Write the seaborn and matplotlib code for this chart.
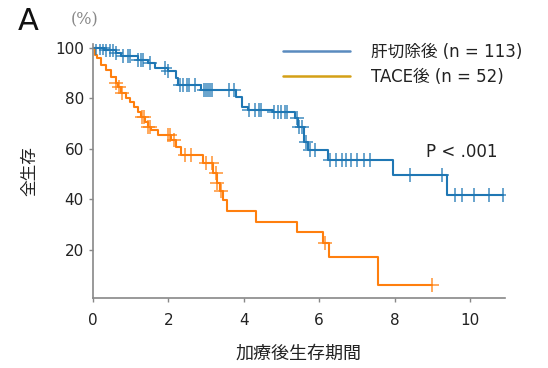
import numpy as np
import pandas as pd
import matplotlib
matplotlib.use("Agg")
import matplotlib.pyplot as plt
from matplotlib.lines import Line2D
import seaborn as sns

# ---- data ----
hep_times = [0, 0.3, 0.6, 0.74, 1.2, 1.46, 1.64, 2.0, 2.2, 2.25, 2.86, 3.8, 3.95, 4.1, 4.77,
             5.37, 5.45, 5.6, 5.7, 6.23, 7.96, 9.39, 10.87]
hep_surv = [100, 99, 98, 96.6, 95, 94, 92, 90.7, 88, 85, 83, 80.5, 76.4, 75.2, 74.5,
            72, 68.5, 62.6, 59.4, 55.4, 49.5, 41.6, 41.6]
hep_censor = [0.08, 0.19, 0.27, 0.34, 0.45, 0.53, 0.61, 0.8, 0.93, 0.98, 1.2, 1.27, 1.33, 1.5,
              1.9, 2.0, 2.3, 2.4, 2.5, 2.55, 2.7, 2.95, 3.0, 3.05, 3.1, 3.15, 3.6, 3.75,
              4.15, 4.3, 4.4, 4.45, 4.8, 4.9, 5.0, 5.1, 5.15, 5.4, 5.47, 5.55, 5.65, 5.75,
              5.9, 6.3, 6.45, 6.6, 6.7, 6.85, 7.0, 7.2, 7.35, 8.4, 9.26, 9.6, 9.8, 10.1,
              10.5, 10.87]

tace_times = [0, 0.05, 0.1, 0.2, 0.35, 0.48, 0.6, 0.66, 0.74, 0.88, 0.98, 1.1, 1.2, 1.27,
              1.38, 1.45, 1.54, 1.72, 2.07, 2.2, 2.33, 2.92, 3.18, 3.28, 3.38, 3.45, 3.55,
              4.32, 5.4, 6.1, 6.25, 7.56, 9.0]
tace_surv = [100, 97, 95.8, 93, 91, 88.3, 86, 84.4, 82, 80, 78.4, 76.4, 74.5, 72.5,
             70.5, 68.5, 67.3, 65.3, 63.4, 60.6, 57.4, 54.3, 50.5, 46.5, 43, 39.6, 35.2,
             30.9, 26.9, 22.6, 17.2, 5.9, 5.9]
tace_censor = [0.6, 0.7, 0.78, 1.3, 1.35, 1.45, 1.5, 2.0, 2.05, 2.15, 2.45, 2.6, 3.0,
               3.15, 3.25, 3.3, 3.4, 6.15, 9.0]

labels = ["肝切除後 (n = 113)", "TACE後 (n = 52)"]
xticks = [0, 2, 4, 6, 8, 10]
yticks = [20, 40, 60, 80, 100]

# ---- style ----
sns.set_theme(style="ticks")
FAM = ['DejaVu Sans', 'Noto Sans CJK JP']
plt.rcParams['font.family'] = FAM

curve_colors = ["#1f77b4", "#ff7f0e"]
legend_colors = ["#5a8bbf", "#d4a017"]

W, H = 548, 368
fig = plt.figure(figsize=(W / 100, H / 100), dpi=100)
ax = fig.add_axes([93 / W, 1 - 298 / H, (505 - 93) / W, (298 - 44) / H])

df = pd.concat([
    pd.DataFrame({"t": hep_times, "s": hep_surv, "g": labels[0]}),
    pd.DataFrame({"t": tace_times, "s": tace_surv, "g": labels[1]}),
])
sns.lineplot(data=df, x="t", y="s", hue="g", palette=curve_colors, estimator=None,
             sort=False, drawstyle="steps-post", linewidth=1.5, legend=False, ax=ax)


def surv_at(times, surv, c):
    idx = np.searchsorted(times, c, side="right") - 1
    return np.asarray(surv)[idx]


for times, surv, cens, col in [(hep_times, hep_surv, hep_censor, curve_colors[0]),
                               (tace_times, tace_surv, tace_censor, curve_colors[1])]:
    ys = surv_at(np.asarray(times), surv, np.asarray(cens))
    ax.plot(cens, ys, linestyle="none", marker="+", markersize=10, mew=1.1,
            color=col, alpha=0.85)

ax.set_xlim(0, 10.93)
ax.set_ylim(0.8, 101.4)
ax.set_xticks(xticks)
ax.set_yticks(yticks)
ax.tick_params(axis="both", labelsize=11, colors="#888888", labelcolor="#222222",
               length=3, width=1)
ax.tick_params(axis="x", pad=8)
for sp in ["top", "right"]:
    ax.spines[sp].set_visible(False)
for sp in ["left", "bottom"]:
    ax.spines[sp].set_color("#888888")
    ax.spines[sp].set_linewidth(1.2)

ax.set_xlabel("加療後生存期間", fontsize=13, color="#222222", labelpad=12,
              family=['Noto Sans CJK JP'])
ax.set_ylabel("全生存", fontsize=12, color="#222222", labelpad=12,
              family=['Noto Sans CJK JP'])

# legend
handles = [Line2D([0], [0], color=legend_colors[i], lw=1.8) for i in range(2)]
leg = ax.legend(handles, labels, loc="upper left",
                bbox_to_anchor=((283 - 93) / 412, (298 - 43) / 254),
                frameon=False, fontsize=12, handlelength=4.0, handletextpad=1.3,
                labelspacing=0.42, borderpad=0, borderaxespad=0)
for t in leg.get_texts():
    t.set_color("#222222")

ax.text((462 - 93) / 37.7, (300 - 152) / 2.525, "P < .001", fontsize=12,
        color="#222222", ha="center", va="center")

fig.text(28 / W, 1 - 21 / H, "A", fontsize=22, color="#111111", ha="center",
         va="center", family=["DejaVu Sans"])
fig.text(85 / W, 1 - 20 / H, "(%)", fontsize=11.5, color="#888888", ha="center",
         va="center", family=["DejaVu Serif"])

fig.savefig("out.png", dpi=100)
